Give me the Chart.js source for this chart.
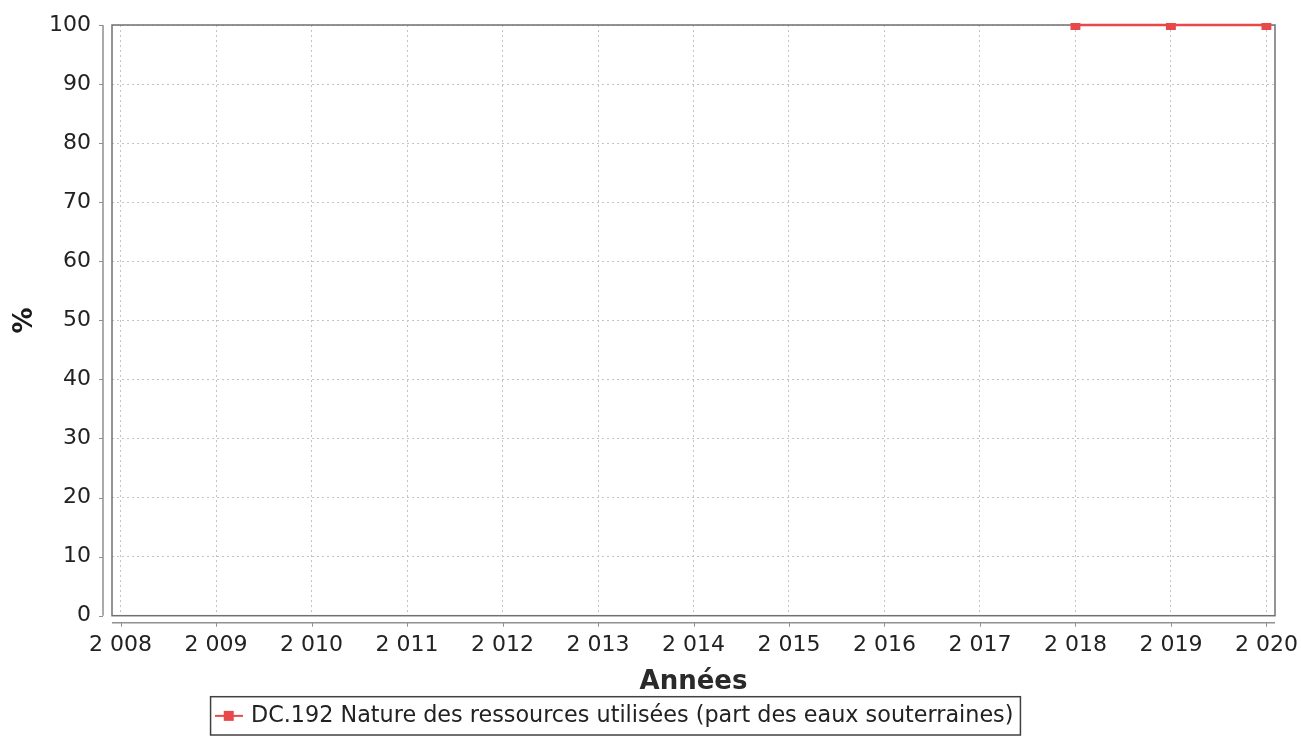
<!DOCTYPE html>
<html>
<head>
<meta charset="utf-8">
<script src="https://cdn.jsdelivr.net/npm/chart.js@4/dist/chart.umd.min.js"></script>
<style>
html,body{margin:0;padding:0;background:#fff;}
#wrap{width:1301px;height:745px;position:relative;}
</style>
</head>
<body>
<div id="wrap"><canvas id="c" width="1301" height="745"></canvas></div>
<script>
const years = [2008, 2009, 2010, 2011, 2012, 2013, 2014, 2015, 2016, 2017, 2018, 2019, 2020];
const values = [null, null, null, null, null, null, null, null, null, null, 100, 100, 100];
const yTicks = [0, 10, 20, 30, 40, 50, 60, 70, 80, 90, 100];
const seriesLabel = 'DC.192 Nature des ressources utilisées (part des eaux souterraines)';
const xTitle = 'Années';
const yTitle = '%';

const RED = '#e8484a';
const FONT = "'DejaVu Sans', sans-serif";

// legend symbol: line with square marker
const sym = document.createElement('canvas');
sym.width = 28; sym.height = 12;
(function(){
  const g = sym.getContext('2d');
  g.strokeStyle = RED; g.lineWidth = 2;
  g.beginPath(); g.moveTo(0, 6); g.lineTo(28, 6); g.stroke();
  g.fillStyle = RED; g.fillRect(9, 1, 10, 10);
})();

const noPad = s => { s.paddingLeft = 0; s.paddingRight = 0; s.paddingTop = 0; s.paddingBottom = 0; };

const framePlugin = {
  id: 'frame',
  afterLayout(chart) {
    const lg = chart.legend;
    if (lg) { lg.left -= 22; lg.right -= 22; }
  },
  beforeDatasetsDraw(chart) {
    const {ctx, chartArea: a} = chart;
    ctx.save();
    ctx.strokeStyle = '#707070';
    ctx.lineWidth = 1.5;
    ctx.strokeRect(a.left, a.top, a.right - a.left, a.bottom - a.top);
    ctx.restore();
  },
  afterDraw(chart) {
    const {ctx, chartArea: a, scales} = chart;
    ctx.save();
    ctx.strokeStyle = '#909090';
    ctx.lineWidth = 1.5;
    const ax = a.left - 9, ay = a.bottom + 7;
    ctx.beginPath();
    ctx.moveTo(ax, a.top); ctx.lineTo(ax, a.bottom);
    ctx.moveTo(a.left, ay); ctx.lineTo(a.right, ay);
    ctx.stroke();
    ctx.lineWidth = 1;
    ctx.beginPath();
    scales.y.ticks.forEach(t => {
      const p = Math.round(scales.y.getPixelForValue(t.value)) + 0.5;
      ctx.moveTo(ax - 4, p); ctx.lineTo(ax, p);
    });
    scales.x.ticks.forEach(t => {
      const p = Math.round(scales.x.getPixelForValue(t.value)) + 0.5;
      ctx.moveTo(p, ay); ctx.lineTo(p, ay + 4);
    });
    ctx.stroke();
    // legend frame
    const lg = chart.legend;
    if (lg && lg.legendHitBoxes && lg.legendHitBoxes.length) {
      const h = lg.legendHitBoxes[0];
      ctx.strokeStyle = '#404040';
      ctx.lineWidth = 1.5;
      ctx.strokeRect(h.left - 7, h.top - 8, h.width + 14, h.height + 16);
    }
    ctx.restore();
  }
};

new Chart(document.getElementById('c'), {
  type: 'line',
  data: {
    datasets: [{
      label: seriesLabel,
      data: years.map((y, i) => ({x: y, y: values[i]})),
      borderColor: RED,
      backgroundColor: RED,
      borderWidth: 2.5,
      pointStyle: 'rect',
      pointRadius: 7,
      pointHoverRadius: 7,
      pointBorderWidth: 0,
      spanGaps: false,
      tension: 0,
      clip: {left: 10, right: 10, top: 2, bottom: 10}
    }]
  },
  options: {
    responsive: false,
    animation: false,
    devicePixelRatio: 1,
    layout: {padding: {left: 0, right: 26, top: 25, bottom: 8}},
    plugins: {
      legend: {
        position: 'bottom',
        labels: {
          usePointStyle: true,
          pointStyle: sym,
          font: {family: FONT, size: 22.3},
          color: '#222',
          padding: 4
        }
      },
      tooltip: {enabled: false}
    },
    scales: {
      x: {
        type: 'linear',
        min: 2007.91,
        max: 2020.09,
        afterBuildTicks: s => { s.ticks = years.map(v => ({value: v})); },
        afterFit: s => { s.height = 85; noPad(s); },
        ticks: {
          font: {family: FONT, size: 22},
          color: '#222',
          padding: 16,
          maxRotation: 0,
          autoSkip: false,
          callback: v => String(v).replace(/^(\d)(\d{3})$/, '$1\u00a0$2')
        },
        grid: {color: '#c4c4c4', lineWidth: 1, drawTicks: false},
        border: {display: false, dash: [2, 3]},
        title: {display: true, text: xTitle, font: {family: FONT, size: 26, weight: 'bold'}, color: '#2a2a2a', padding: {top: 0, bottom: 3}}
      },
      y: {
        type: 'linear',
        min: 0,
        max: 100,
        afterBuildTicks: s => { s.ticks = yTicks.map(v => ({value: v})); },
        afterFit: s => { s.width = 112; noPad(s); },
        ticks: {
          font: {family: FONT, size: 22},
          color: '#222',
          padding: 21
        },
        grid: {color: '#c4c4c4', lineWidth: 1, drawTicks: false},
        border: {display: false, dash: [2, 3]},
        title: {display: true, text: yTitle, font: {family: FONT, size: 26, weight: 'bold'}, color: '#1a1a1a', padding: {top: 10, bottom: 0}}
      }
    }
  },
  plugins: [framePlugin]
});
</script>
</body>
</html>
